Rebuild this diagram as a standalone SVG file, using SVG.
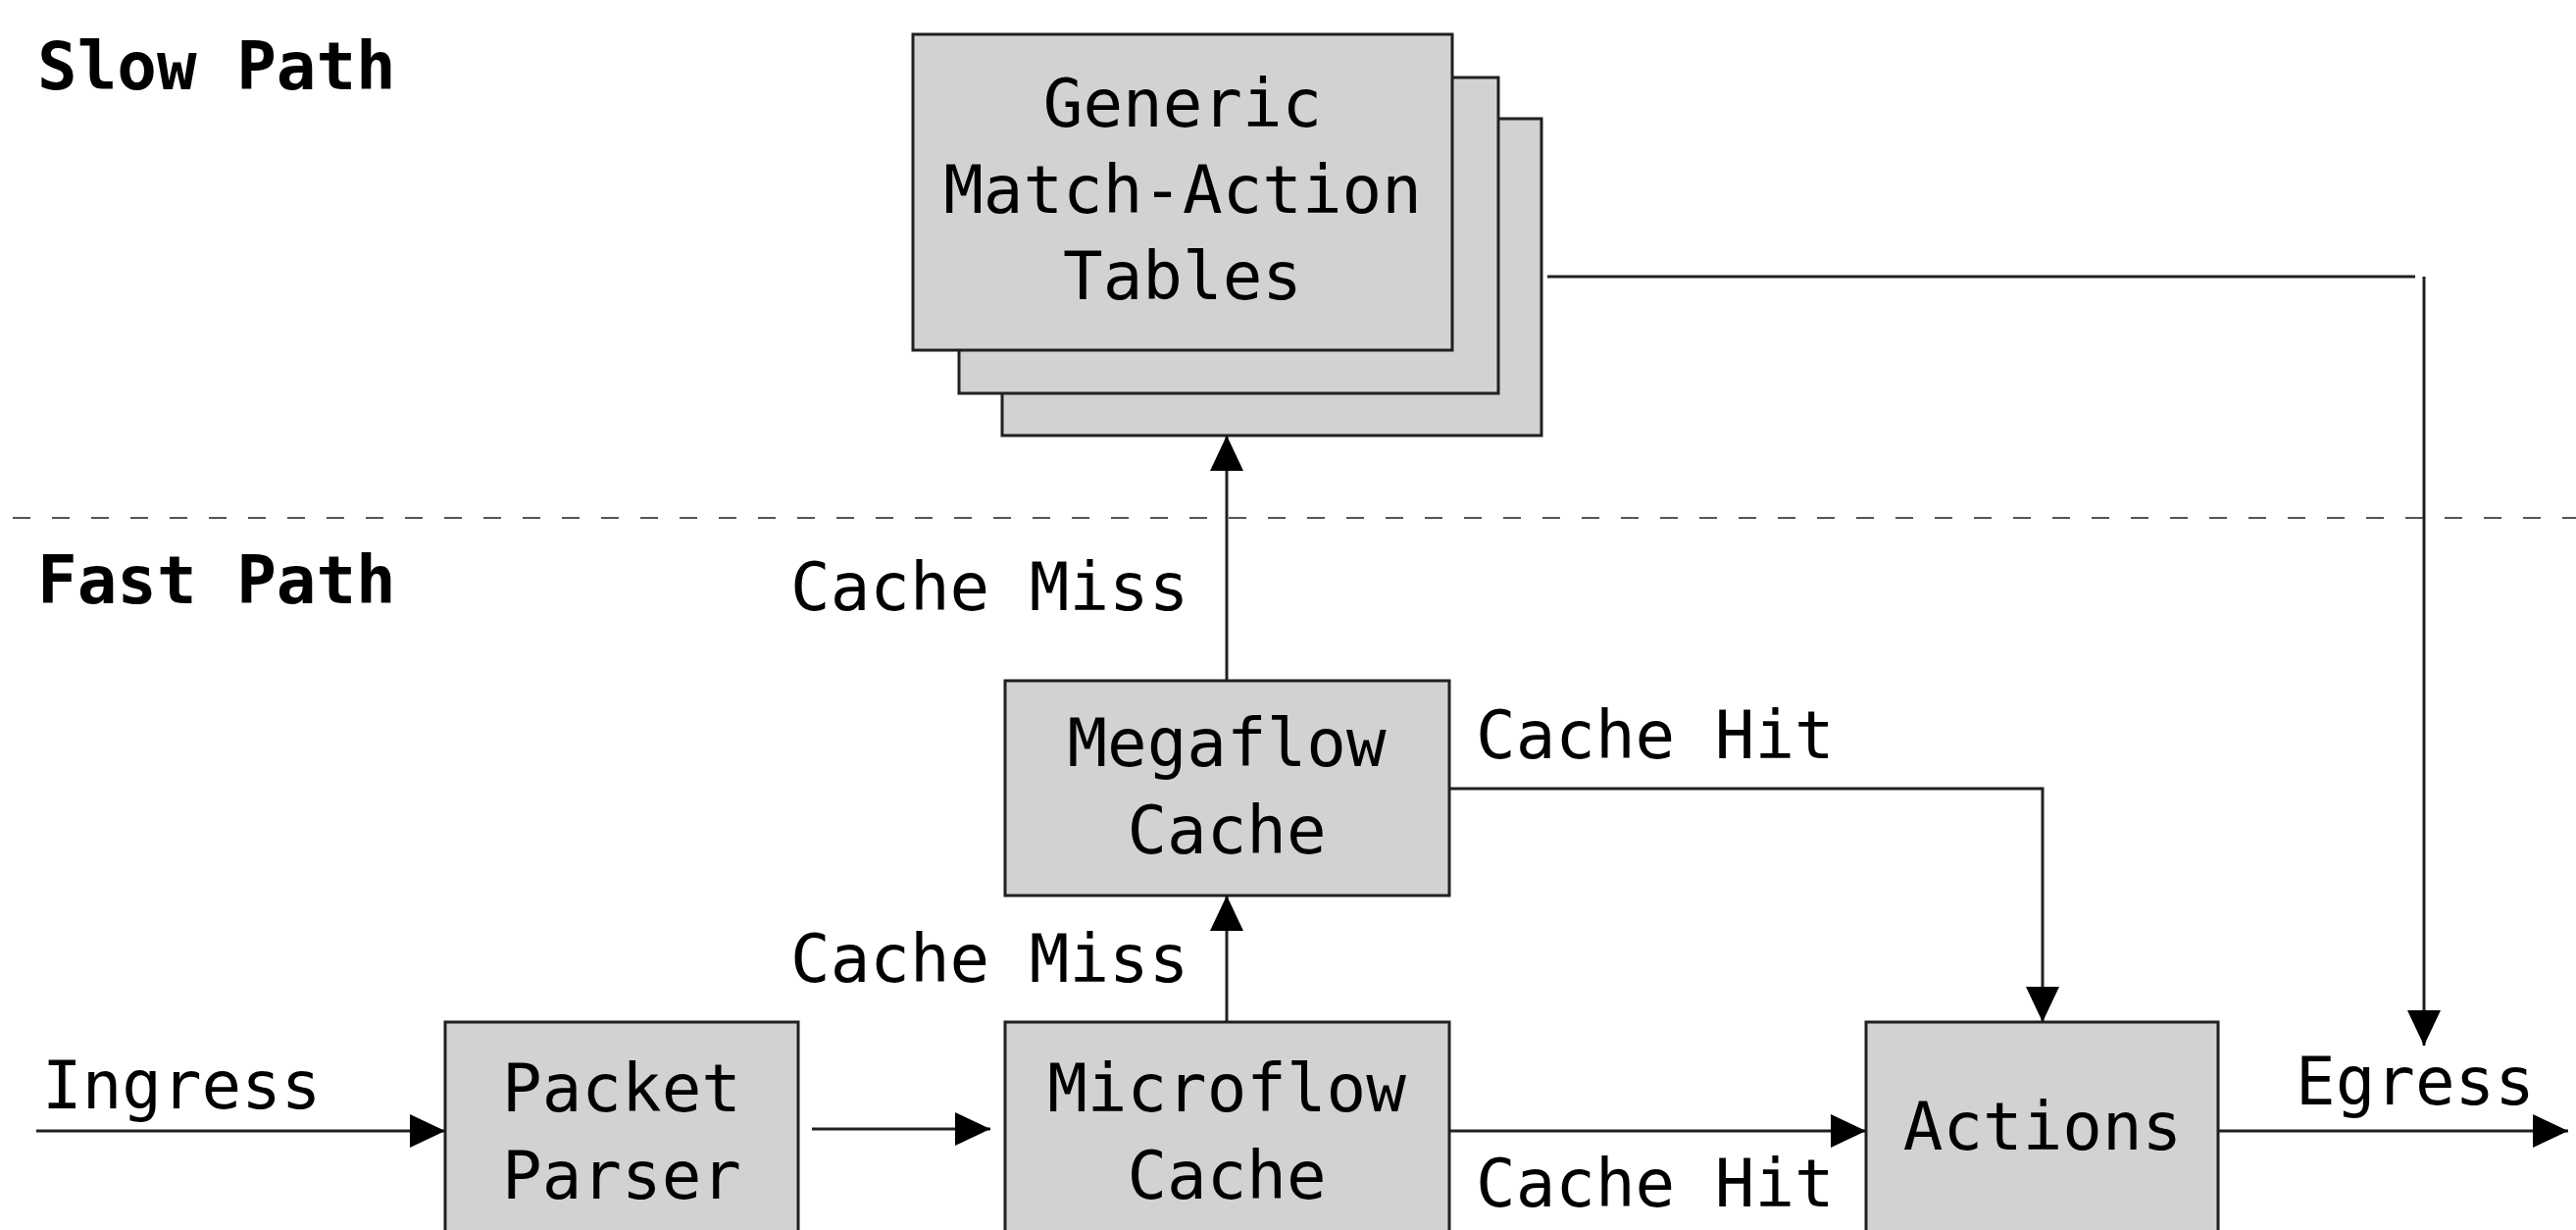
<svg xmlns="http://www.w3.org/2000/svg" width="2627" height="1254" viewBox="0 0 2627 1254">
<style>
.box{fill:#d1d2d4;stroke:#231f20;stroke-width:3}
.t{font-family:"DejaVu Sans Mono","Liberation Mono",monospace;font-size:67.5px;fill:#000}
.c{text-anchor:middle}
.b{font-weight:bold}
.ln{fill:none;stroke:#231f20;stroke-width:3}
.dash{fill:none;stroke:#555;stroke-width:2;stroke-dasharray:18 22}
</style>
<defs>
<marker id="ah" markerUnits="userSpaceOnUse" markerWidth="38" markerHeight="36" refX="36" refY="17" orient="auto">
<path d="M0,0 L36,17 L0,34 z" fill="#000"/>
</marker>
</defs>
<g id="labels">
<text class="t b" x="38" y="91">Slow Path</text>
<text class="t b" x="38" y="615">Fast Path</text>
</g>
<line class="dash" x1="13" y1="528" x2="2627" y2="528"/>
<g id="generic">
<rect class="box" x="1022" y="121" width="550" height="323"/>
<rect class="box" x="978" y="79" width="550" height="322"/>
<rect class="box" x="931" y="35" width="550" height="322"/>
<text class="t c" x="1206" y="129">Generic</text>
<text class="t c" x="1206" y="217">Match-Action</text>
<text class="t c" x="1206" y="305">Tables</text>
</g>
<g id="megaflow">
<rect class="box" x="1025" y="694" width="453" height="219"/>
<text class="t c" x="1251" y="781">Megaflow</text>
<text class="t c" x="1251" y="870">Cache</text>
</g>
<g id="microflow">
<rect class="box" x="1025" y="1042" width="453" height="230"/>
<text class="t c" x="1251" y="1133">Microflow</text>
<text class="t c" x="1251" y="1222">Cache</text>
</g>
<g id="parser">
<rect class="box" x="454" y="1042" width="360" height="230"/>
<text class="t c" x="634" y="1133">Packet</text>
<text class="t c" x="634" y="1222">Parser</text>
</g>
<g id="actions">
<rect class="box" x="1903" y="1042" width="359" height="230"/>
<text class="t c" x="2083" y="1172">Actions</text>
</g>
<g id="connectors">
<line class="ln" x1="37" y1="1153" x2="454" y2="1153" marker-end="url(#ah)"/>
<line class="ln" x1="828" y1="1151" x2="1010" y2="1151" marker-end="url(#ah)"/>
<line class="ln" x1="1251" y1="1042" x2="1251" y2="913" marker-end="url(#ah)"/>
<line class="ln" x1="1251" y1="694" x2="1251" y2="444" marker-end="url(#ah)"/>
<polyline class="ln" points="1478,804 2083,804 2083,1042" marker-end="url(#ah)"/>
<line class="ln" x1="1478" y1="1153" x2="1903" y2="1153" marker-end="url(#ah)"/>
<line class="ln" x1="1578" y1="282" x2="2463" y2="282"/>
<line class="ln" x1="2472" y1="282" x2="2472" y2="1066" marker-end="url(#ah)"/>
<line class="ln" x1="2262" y1="1153" x2="2619" y2="1153" marker-end="url(#ah)"/>
<text class="t" x="43" y="1130">Ingress</text>
<text class="t" x="2341" y="1126">Egress</text>
<text class="t" x="806" y="622">Cache Miss</text>
<text class="t" x="806" y="1001">Cache Miss</text>
<text class="t" x="1505" y="773">Cache Hit</text>
<text class="t" x="1505" y="1230">Cache Hit</text>
</g>
</svg>
